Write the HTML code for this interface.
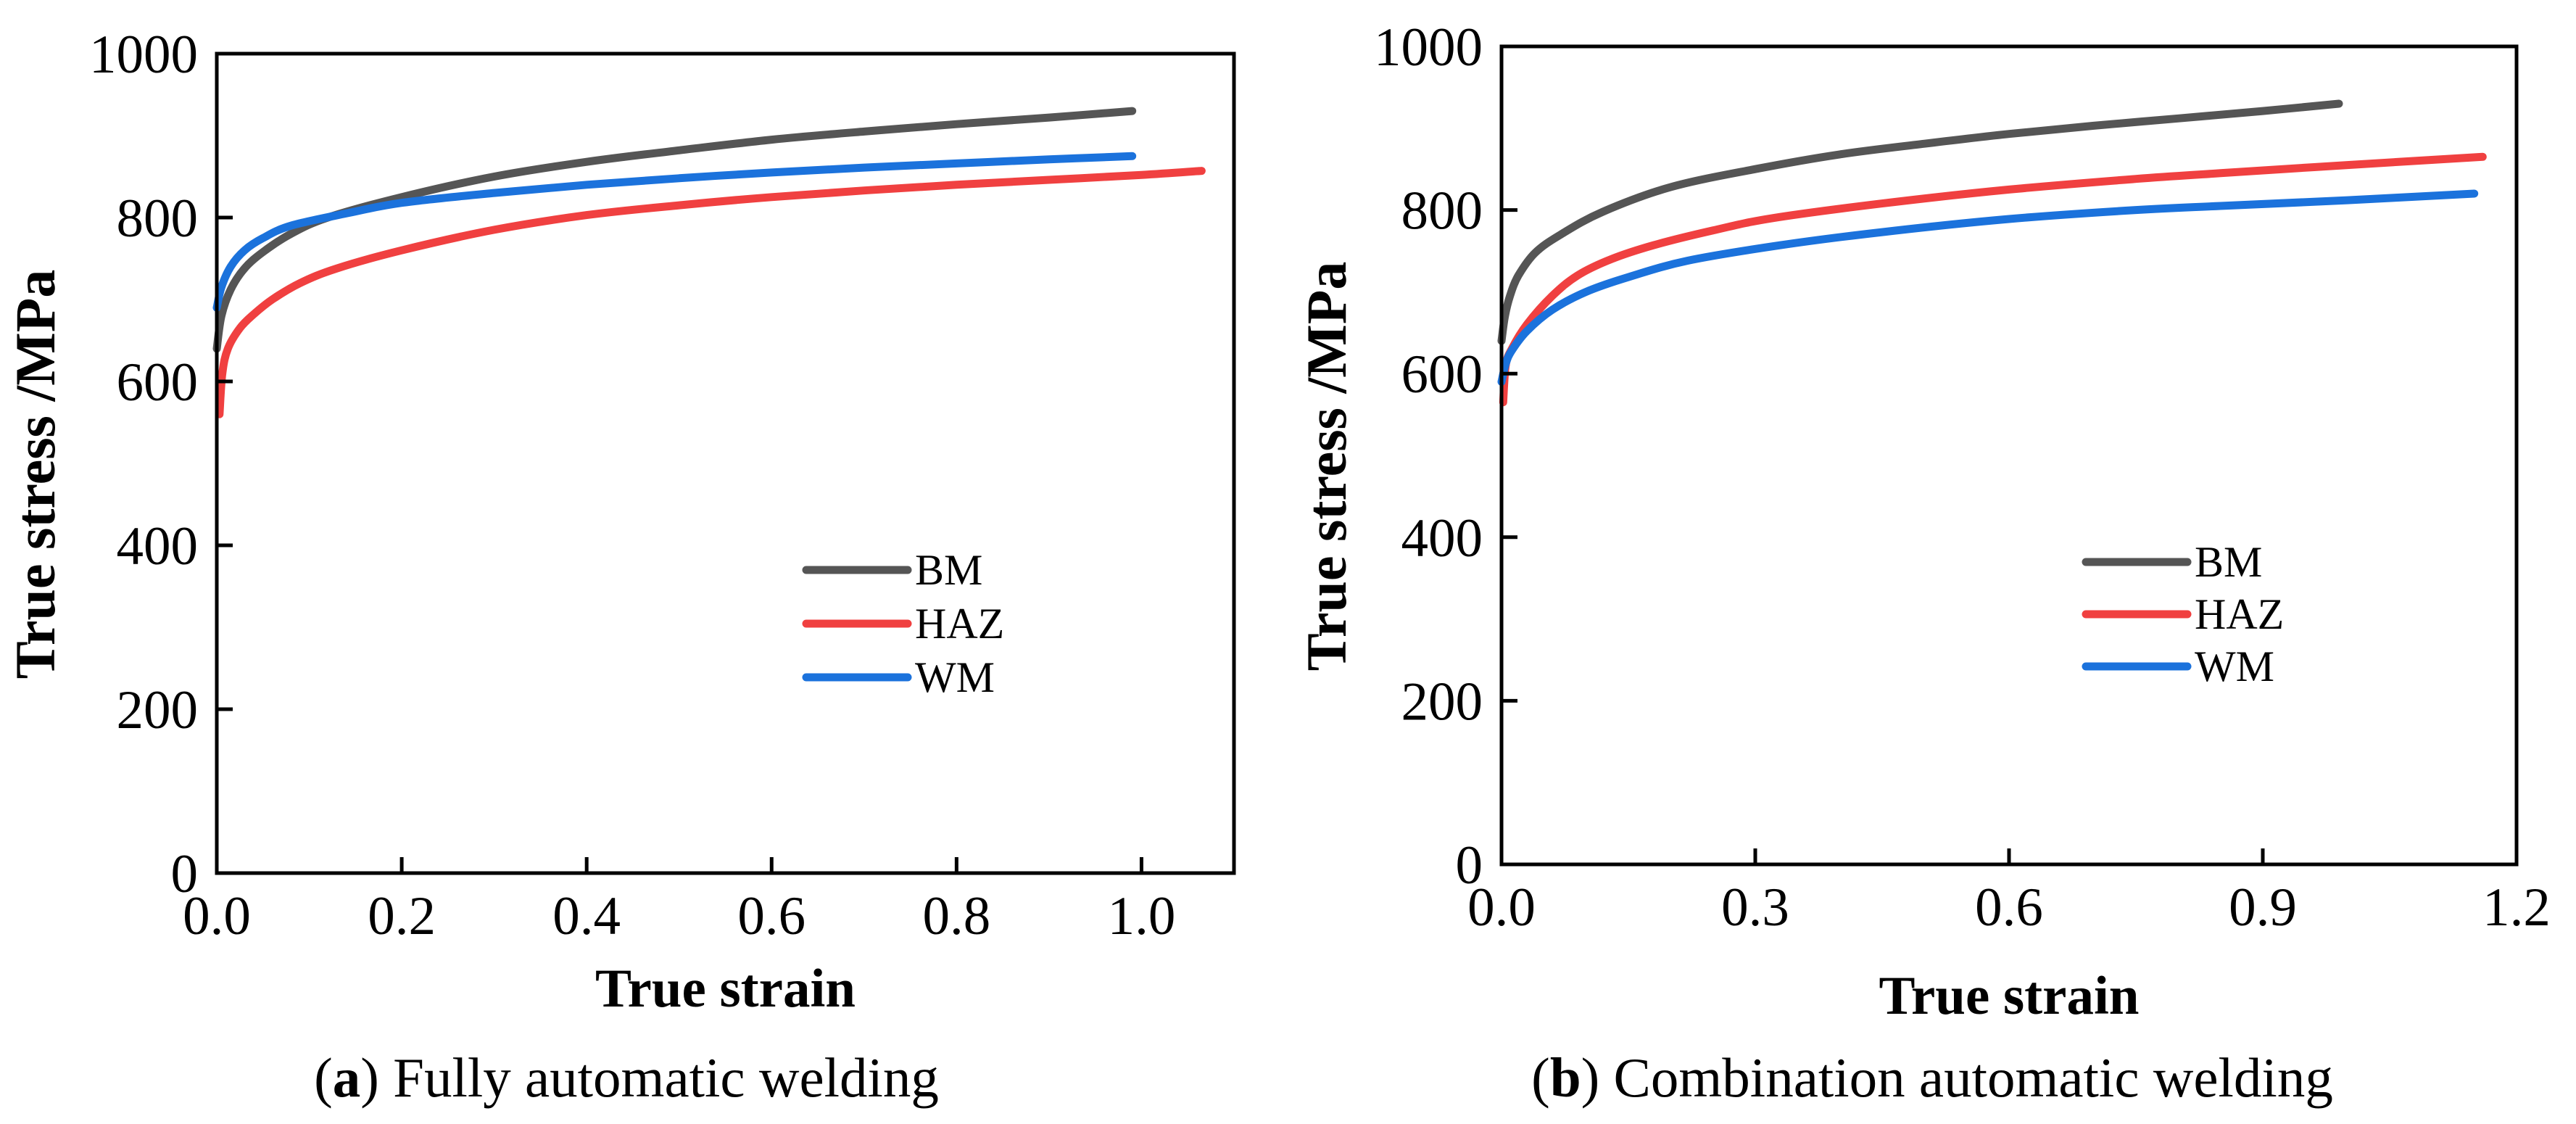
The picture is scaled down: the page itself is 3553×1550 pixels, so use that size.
<!DOCTYPE html>
<html><head><meta charset="utf-8"><style>
html,body{margin:0;padding:0;background:#fff;}
svg{display:block;font-family:"Liberation Serif",serif;}
</style></head><body>
<svg id="fig" width="3553" height="1550" viewBox="0 0 3553 1550" xmlns="http://www.w3.org/2000/svg"></svg>
<script>
const yTicks=[0,200,400,600,800,1000];
const xTicksA=["0.0","0.2","0.4","0.6","0.8","1.0"];
const xTicksB=["0.0","0.3","0.6","0.9","1.2"];
const seriesNames=["BM","HAZ","WM"];
const aBMx=[0,0.005,0.015,0.03,0.05,0.08,0.12,0.2,0.3,0.4,0.5,0.6,0.7,0.8,0.9,0.99];
const aBMy=[640,680,712,738,758,780,800,825,850,868,882,895,905,914,922,930];
const aHAZx=[0.003,0.006,0.012,0.025,0.04,0.06,0.09,0.13,0.2,0.3,0.4,0.5,0.6,0.7,0.8,0.9,1.0,1.065];
const aHAZy=[560,610,640,665,682,700,720,738,760,785,803,815,825,833,840,846,852,857];
const aWMx=[0,0.005,0.015,0.03,0.05,0.08,0.14,0.2,0.3,0.4,0.5,0.6,0.7,0.8,0.9,0.99];
const aWMy=[690,715,740,760,775,790,805,818,830,840,848,855,861,866,871,875];
const bBMx=[0,0.004,0.01,0.02,0.04,0.07,0.12,0.2,0.3,0.4,0.5,0.6,0.7,0.8,0.9,0.99];
const bBMy=[640,670,695,720,748,770,798,828,850,868,881,893,903,912,921,930];
const bHAZx=[0.002,0.005,0.012,0.03,0.06,0.09,0.13,0.18,0.25,0.32,0.45,0.6,0.75,0.85,1.0,1.16];
const bHAZy=[565,610,630,660,695,720,740,757,775,790,808,825,838,845,855,865];
const bWMx=[0,0.005,0.012,0.03,0.06,0.1,0.15,0.22,0.33,0.45,0.6,0.75,0.85,1.0,1.15];
const bWMy=[590,612,628,652,678,700,718,738,757,773,789,800,805,812,820];
const colors={BM:"#555555",HAZ:"#f04040",WM:"#1b72dc"};
const NS="http://www.w3.org/2000/svg";
const svg=document.getElementById('fig');
function mk(tag,attrs,parent){const e=document.createElementNS(NS,tag);for(const k in attrs)e.setAttribute(k,attrs[k]);(parent||svg).appendChild(e);return e;}
function smoothPath(pts){
  let d='M'+pts[0][0].toFixed(1)+','+pts[0][1].toFixed(1);
  for(let i=0;i<pts.length-1;i++){
    const p0=pts[Math.max(0,i-1)],p1=pts[i],p2=pts[i+1],p3=pts[Math.min(pts.length-1,i+2)];
    const c1=[p1[0]+(p2[0]-p0[0])/6,p1[1]+(p2[1]-p0[1])/6];
    const c2=[p2[0]-(p3[0]-p1[0])/6,p2[1]-(p3[1]-p1[1])/6];
    d+=' C'+c1[0].toFixed(1)+','+c1[1].toFixed(1)+' '+c2[0].toFixed(1)+','+c2[1].toFixed(1)+' '+p2[0].toFixed(1)+','+p2[1].toFixed(1);
  }
  return d;
}
function panel(p){
  const g=mk('g',{});
  
  
  const X=v=>p.x0+(v-0)/(p.xmax)*(p.x1-p.x0);
  const Y=v=>p.y0-(v/1000)*(p.y0-p.y1);
  p.series.forEach(s=>{
    const pts=s.x.map((xv,i)=>[X(xv),Y(s.y[i])]);
    const path=mk('path',{d:smoothPath(pts),fill:'none',stroke:colors[s.name],'stroke-width':11,'stroke-linecap':'round','stroke-linejoin':'round'},g);
    
    
  });
  const fr=mk('rect',{x:p.x0,y:p.y1,width:p.x1-p.x0,height:p.y0-p.y1,fill:'none',stroke:'#000','stroke-width':5},g);
  
  
  yTicks.forEach(t=>{
    const yy=Y(t);
    if(t>0&&t<1000){const tk=mk('line',{x1:p.x0,x2:p.x0+22,y1:yy,y2:yy,stroke:'#000','stroke-width':5},g);
    
    }
    const tx=mk('text',{x:p.x0-26,y:yy+26,'text-anchor':'end','font-size':75},g);
    tx.textContent=t;
    
    
  });
  p.xt.forEach(t=>{
    const xx=X(parseFloat(t));
    if(parseFloat(t)>0&&xx<p.x1-5){const tk=mk('line',{x1:xx,x2:xx,y1:p.y0,y2:p.y0-22,stroke:'#000','stroke-width':5},g);
    
    }
    const tx=mk('text',{x:xx,y:p.y0+84,'text-anchor':'middle','font-size':75},g);
    tx.textContent=t;
    
    
  });
  const xt=mk('text',{x:(p.x0+p.x1)/2,y:p.xTitleY,'text-anchor':'middle','font-size':75,'font-weight':'bold'},g);
  xt.textContent='True strain';
  
  
  const yt=mk('text',{x:0,y:0,'text-anchor':'middle','font-size':78,'font-weight':'bold',transform:`translate(${p.yTitleX},${(p.y0+p.y1)/2+15}) rotate(-90)`},g);
  yt.textContent='True stress /MPa';
  
  
  seriesNames.forEach((n,i)=>{
    const ly=p.legY+i*p.legDy;
    const l=mk('line',{x1:p.legX,x2:p.legX+140,y1:ly,y2:ly,stroke:colors[n],'stroke-width':11,'stroke-linecap':'round'},g);
    
    
    const t=mk('text',{x:p.legX+150,y:ly+20,'font-size':60},g);
    t.textContent=n;
    
    
  });
  const cap=mk('text',{x:p.capX,y:1512,'text-anchor':'middle','font-size':77},g);
  cap.innerHTML='(<tspan font-weight="bold">'+p.capL+'</tspan>) '+p.cap;
  
  
}
panel({id:'a',x0:299,x1:1702,y0:1204,y1:74,xmax:1.1,xt:xTicksA,xTitleY:1388,yTitleX:75,legX:1112,legY:786,legDy:74,capX:864,capL:'a',cap:'Fully automatic welding',
  series:[{name:'BM',x:aBMx,y:aBMy},{name:'HAZ',x:aHAZx,y:aHAZy},{name:'WM',x:aWMx,y:aWMy}]});
panel({id:'b',x0:2071,x1:3471,y0:1192,y1:64,xmax:1.2,xt:xTicksB,xTitleY:1398,yTitleX:1856,legX:2877,legY:775,legDy:72,capX:2665,capL:'b',cap:'Combination automatic welding',
  series:[{name:'BM',x:bBMx,y:bBMy},{name:'HAZ',x:bHAZx,y:bHAZy},{name:'WM',x:bWMx,y:bWMy}]});
</script>
</body></html>
